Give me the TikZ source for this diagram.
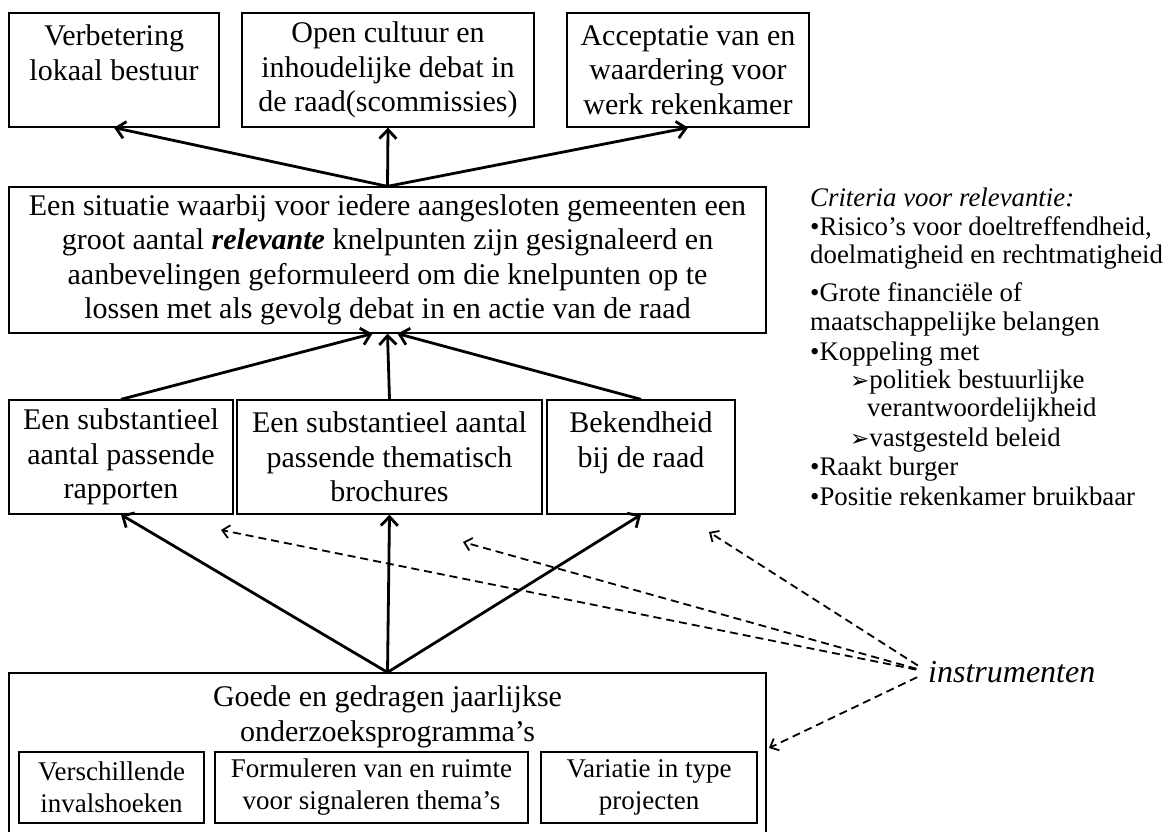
\documentclass[tikz,border=0pt]{standalone}
\usepackage{fontspec}
\setmainfont{Liberation Serif}
\newfontfamily\symfont{DejaVu Sans}
\usetikzlibrary{arrows.meta,positioning}
\tikzset{
  box/.style={draw, line width=1.3pt, align=center, inner sep=0pt, font=\fontsize{30}{34.5}\selectfont},
  ibox/.style={draw, line width=1.3pt, align=center, inner sep=0pt, font=\fontsize{27}{32}\selectfont},
  arr/.style={line width=2.8pt, -{Straight Barb[length=9pt,width=17pt]}},
  darr/.style={line width=1.8pt, dash pattern=on 8pt off 5pt, -{Straight Barb[length=7pt,width=13pt]}},
  crit/.style={anchor=base west, inner sep=0pt, font=\fontsize{26.8}{29}\selectfont},
}
\newcommand{\tip}{{\symfont\fontsize{23}{23}\selectfont ➢}}

\begin{document}
\begin{tikzpicture}[x=1pt, y=-1pt]
 \useasboundingbox (0,0) rectangle (1167,832);
 % top row
 \node[box, minimum width=210pt, minimum height=114pt] (top1) at (114,70) {Verbetering\\lokaal bestuur\\\mbox{}};
 \node[box, minimum width=292pt, minimum height=114pt] (top2) at (388,70) {Open cultuur en\\inhoudelijke debat in\\de raad(scommissies)};
 \node[box, minimum width=242pt, minimum height=114pt] (top3) at (688,70) {Acceptatie van en\\waardering voor\\werk rekenkamer};
 % situatie
 \node[box, minimum width=757pt, minimum height=146pt] (sit) at (387.5,260) {Een situatie waarbij voor iedere aangesloten gemeenten een\\groot aantal \textbf{\textit{relevante}} knelpunten zijn gesignaleerd en\\aanbevelingen geformuleerd om die knelpunten op te\\lossen met als gevolg debat in en actie van de raad};
 % middle row
 \node[box, minimum width=224pt, minimum height=114pt] (low1) at (121,457) {Een substantieel\\aantal passende\\rapporten};
 \node[box, minimum width=305pt, minimum height=114pt] (low2) at (389.5,457) {Een substantieel aantal\\passende thematisch\\brochures};
 \node[box, minimum width=188pt, minimum height=114pt] (low3) at (641,457) {Bekendheid\\bij de raad\\\mbox{}};
 % programma
 \node[box, minimum width=757pt, minimum height=172pt] (prog) at (387.5,759) {};
 \node[font=\fontsize{30}{34.5}\selectfont, align=center, inner sep=0pt] (progtitle) at (387.5,717) {Goede en gedragen jaarlijkse\\onderzoeksprogramma’s};
 \node[ibox, minimum width=185pt, minimum height=71pt] (ia) at (111.5,787.5) {Verschillende\\invalshoeken};
 \node[ibox, minimum width=313pt, minimum height=71pt] (ib) at (371.5,787.5) {Formuleren van en ruimte\\voor signaleren thema’s};
 \node[ibox, minimum width=216pt, minimum height=71pt] (ic) at (649,787.5) {Variatie in type\\projecten};
 % criteria
 \foreach \y/\x/\t [count=\i] in {206/810/{\textit{Criteria voor relevantie:}},
   235/810/{•Risico’s voor doeltreffendheid,}, 263/810/{doelmatigheid en rechtmatigheid},
   301/810/{•Grote financiële of}, 330/810/{maatschappelijke belangen},
   360/810/{•Koppeling met}, 388/850/{\tip politiek bestuurlijke},
   416/867/{verantwoordelijkheid}, 446/850/{\tip vastgesteld beleid},
   475/810/{•Raakt burger}, 505/810/{•Positie rekenkamer bruikbaar}}
   \node[crit] (crit\i) at (\x,\y) {\t};
 \node[anchor=west, inner sep=0pt, font=\fontsize{32}{36}\selectfont\itshape] (instr) at (928,672) {instrumenten};
 % arrows
 \draw[arr] (sit.north) -- (top1.south);
 \draw[arr] (sit.north) -- (top2.south);
 \draw[arr] (sit.north) -- (top3.south);
 \draw[arr] (low1.north) -- ([xshift=-15pt]sit.south);
 \draw[arr] (low2.north) -- (sit.south);
 \draw[arr] (low3.north) -- ([xshift=10pt]sit.south);
 \draw[arr] (prog.north) -- (low1.south);
 \draw[arr] (prog.north) -- (low2.south);
 \draw[arr] (prog.north) -- (low3.south);
 % dashed
 \coordinate (d1) at (221,530);
 \coordinate (d2) at (463,542);
 \coordinate (d3) at (709,532);
 \coordinate (d4) at (769,748);
 \foreach \d in {d1,d2,d3,d4} \draw[darr, shorten <=12pt] (instr.west) -- (\d);
\end{tikzpicture}
\end{document}
